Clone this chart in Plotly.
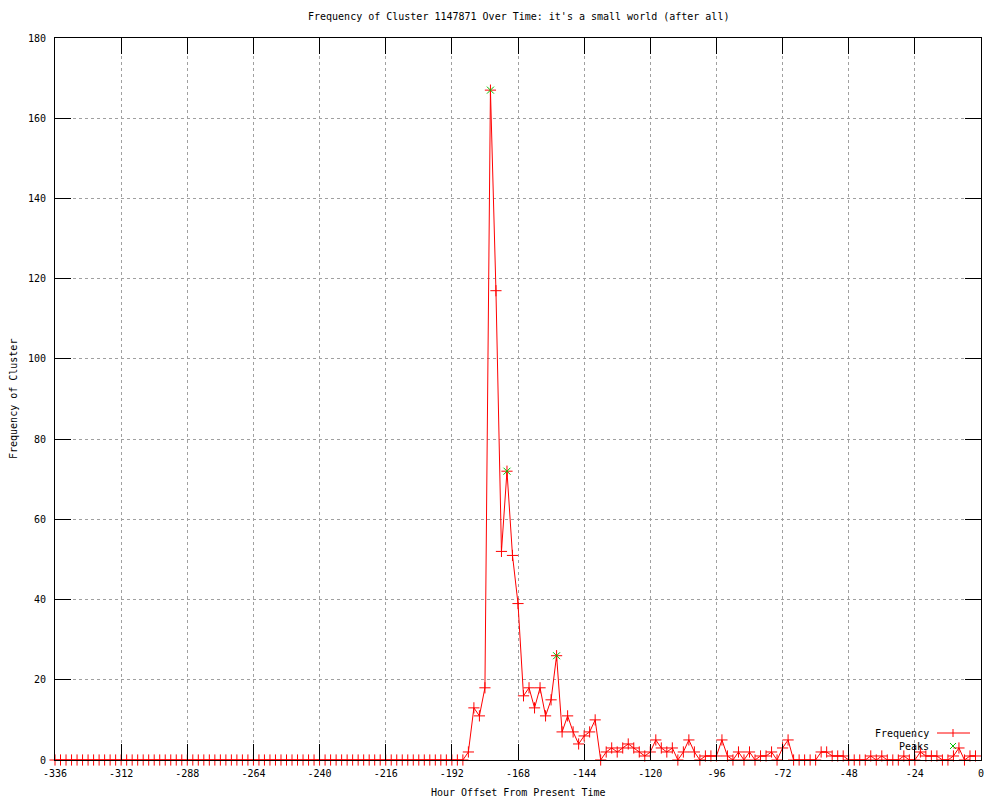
import plotly.graph_objects as go

hours = [-336, -334, -332, -330, -328, -326, -324, -322, -320, -318, -316, -314,
         -312, -310, -308, -306, -304, -302, -300, -298, -296, -294, -292, -290,
         -288, -286, -284, -282, -280, -278, -276, -274, -272, -270, -268, -266,
         -264, -262, -260, -258, -256, -254, -252, -250, -248, -246, -244, -242,
         -240, -238, -236, -234, -232, -230, -228, -226, -224, -222, -220, -218,
         -216, -214, -212, -210, -208, -206, -204, -202, -200, -198, -196, -194,
         -192, -190, -188, -186, -184, -182, -180, -178, -176, -174, -172, -170,
         -168, -166, -164, -162, -160, -158, -156, -154, -152, -150, -148, -146,
         -144, -142, -140, -138, -136, -134, -132, -130, -128, -126, -124, -122,
         -120, -118, -116, -114, -112, -110, -108, -106, -104, -102, -100, -98,
         -96, -94, -92, -90, -88, -86, -84, -82, -80, -78, -76, -74,
         -72, -70, -68, -66, -64, -62, -60, -58, -56, -54, -52, -50,
         -48, -46, -44, -42, -40, -38, -36, -34, -32, -30, -28, -26,
         -24, -22, -20, -18, -16, -14, -12, -10, -8, -6, -4, -2]

frequency = [0, 0, 0, 0, 0, 0, 0, 0, 0, 0, 0, 0,
             0, 0, 0, 0, 0, 0, 0, 0, 0, 0, 0, 0,
             0, 0, 0, 0, 0, 0, 0, 0, 0, 0, 0, 0,
             0, 0, 0, 0, 0, 0, 0, 0, 0, 0, 0, 0,
             0, 0, 0, 0, 0, 0, 0, 0, 0, 0, 0, 0,
             0, 0, 0, 0, 0, 0, 0, 0, 0, 0, 0, 0,
             0, 0, 0, 2, 13, 11, 18, 167, 117, 52, 72, 51,
             39, 16, 18, 13, 18, 11, 15, 26, 7, 11, 7, 4,
             6, 7, 10, 0, 2, 3, 2, 3, 4, 3, 2, 1,
             2, 5, 3, 2, 3, 0, 2, 5, 2, 0, 1, 1,
             1, 5, 1, 0, 2, 0, 2, 0, 1, 1, 2, 0,
             3, 5, 0, 0, 0, 0, 0, 2, 2, 1, 1, 1,
             0, 0, 0, 0, 1, 0, 1, 0, 0, 0, 1, 0,
             0, 2, 1, 1, 1, 0, 0, 1, 3, 0, 1, 1]

peak_hours = [-178, -172, -154]
peak_values = [167, 72, 26]

x_tick_vals = [-336, -312, -288, -264, -240, -216, -192, -168, -144, -120, -96, -72, -48, -24, 0]
x_tick_text = ["-336", "-312", "-288", "-264", "-240", "-216", "-192", "-168", "-144",
               "-120", "-96", "-72", "-48", "-24", "0"]
y_tick_vals = [0, 20, 40, 60, 80, 100, 120, 140, 160, 180]
y_tick_text = ["0", "20", "40", "60", "80", "100", "120", "140", "160", "180"]

title_text = "Frequency of Cluster 1147871 Over Time: it's a small world (after all)"
x_title = "Hour Offset From Present Time"
y_title = "Frequency of Cluster"

FONT = "DejaVu Sans Mono"
RED = "#ff0000"
GREEN = "#00c000"

fig = go.Figure()
fig.add_trace(go.Scatter(
    x=hours, y=frequency, mode="lines+markers", name="Frequency",
    line=dict(color=RED, width=1),
    marker=dict(symbol="cross-thin", size=8, line=dict(color=RED, width=1), color=RED),
    showlegend=False, cliponaxis=False,
))
fig.add_trace(go.Scatter(
    x=peak_hours, y=peak_values, mode="markers", name="Peaks",
    marker=dict(symbol="x-thin", size=7, line=dict(color=GREEN, width=1), color=GREEN),
    showlegend=False, cliponaxis=False,
))

# page offset of the plotly div (browser default body margin)
OFF = 8
W, H = 1000, 800
# desired plot area in page pixels
PX0, PX1, PY0, PY1 = 55, 981, 38, 760
L = PX0 - OFF
T = PY0 - OFF
PW = PX1 - PX0
PH = PY1 - PY0
R = W - L - PW
B = H - T - PH


def px(xp):
    return (xp - PX0) / PW


def py(yp):
    return (PY1 - yp) / PH


shapes = []
# custom legend (gnuplot style: text then sample)
ly1, ly2 = 733, 746
shapes.append(dict(type="line", xref="paper", yref="paper", x0=px(937), x1=px(970),
                   y0=py(ly1), y1=py(ly1), line=dict(color=RED, width=1)))
shapes.append(dict(type="line", xref="paper", yref="paper", x0=px(953), x1=px(953),
                   y0=py(ly1 - 4), y1=py(ly1 + 4), line=dict(color=RED, width=1)))
shapes.append(dict(type="line", xref="paper", yref="paper", x0=px(950), x1=px(956),
                   y0=py(ly2 - 3), y1=py(ly2 + 3), line=dict(color=GREEN, width=1)))
shapes.append(dict(type="line", xref="paper", yref="paper", x0=px(950), x1=px(956),
                   y0=py(ly2 + 3), y1=py(ly2 - 3), line=dict(color=GREEN, width=1)))

annotations = [
    dict(text=title_text, xref="paper", yref="paper", x=0.5, y=1, yanchor="bottom",
         yshift=14, showarrow=False, font=dict(family=FONT, size=10, color="black")),
    dict(text=x_title, xref="paper", yref="paper", x=0.5, y=0, yanchor="top",
         yshift=-25, showarrow=False, font=dict(family=FONT, size=10, color="black")),
    dict(text=y_title, xref="paper", yref="paper", x=0, y=0.5, xanchor="center",
         xshift=-42, textangle=-90, showarrow=False,
         font=dict(family=FONT, size=10, color="black")),
    dict(text="Frequency", xref="paper", yref="paper", x=px(931), y=py(ly1),
         xanchor="right", yanchor="middle", showarrow=False,
         font=dict(family=FONT, size=10, color="black")),
    dict(text="Peaks", xref="paper", yref="paper", x=px(931), y=py(ly2),
         xanchor="right", yanchor="middle", showarrow=False,
         font=dict(family=FONT, size=10, color="black")),
]

axis_common = dict(
    showline=True, linecolor="black", linewidth=1, mirror="ticks",
    ticks="inside", ticklen=16, tickcolor="black", tickwidth=1,
    showgrid=True, gridcolor="#a0a0a0", gridwidth=1, griddash="dot",
    zeroline=False, tickfont=dict(family=FONT, size=10, color="black"),
    tickmode="array",
)

fig.update_layout(
    width=W, height=H,
    margin=dict(l=L, r=R, t=T, b=B, autoexpand=False),
    paper_bgcolor="white", plot_bgcolor="white",
    xaxis=dict(range=[-336, 0], tickvals=x_tick_vals, ticktext=x_tick_text,
               ticklabelstandoff=4, **axis_common),
    yaxis=dict(range=[0, 180], tickvals=y_tick_vals, ticktext=y_tick_text,
               ticklabelstandoff=6, **axis_common),
    shapes=shapes, annotations=annotations,
)

fig.write_html("out.html")
